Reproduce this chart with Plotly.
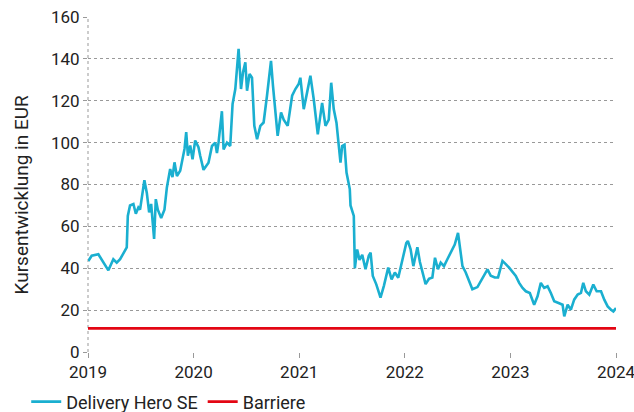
import plotly.graph_objects as go

# decimal year positions and closing prices (EUR)
years = [
    2019.003, 2019.035, 2019.098, 2019.145, 2019.193, 2019.240, 2019.272, 2019.304, 2019.335, 2019.367,
    2019.377, 2019.398, 2019.430, 2019.453, 2019.477, 2019.493, 2019.534, 2019.557, 2019.579, 2019.598,
    2019.626, 2019.642, 2019.661, 2019.693, 2019.724, 2019.747, 2019.778, 2019.800, 2019.819, 2019.842,
    2019.873, 2019.895, 2019.914, 2019.930, 2019.946, 2019.968, 2019.990, 2020.015, 2020.046, 2020.063,
    2020.094, 2020.141, 2020.174, 2020.205, 2020.221, 2020.236, 2020.268, 2020.284, 2020.316, 2020.347,
    2020.369, 2020.395, 2020.426, 2020.449, 2020.468, 2020.490, 2020.506, 2020.530, 2020.553, 2020.575,
    2020.601, 2020.632, 2020.663, 2020.695, 2020.733, 2020.752, 2020.774, 2020.796, 2020.828, 2020.853,
    2020.891, 2020.933, 2020.964, 2020.995, 2021.011, 2021.043, 2021.075, 2021.106, 2021.138, 2021.176,
    2021.217, 2021.249, 2021.280, 2021.303, 2021.327, 2021.353, 2021.375, 2021.391, 2021.407, 2021.429,
    2021.448, 2021.467, 2021.479, 2021.486, 2021.505, 2021.517, 2021.527, 2021.549, 2021.571, 2021.597,
    2021.628, 2021.659, 2021.676, 2021.697, 2021.730, 2021.770, 2021.802, 2021.843, 2021.875, 2021.906,
    2021.938, 2021.976, 2021.991, 2022.014, 2022.029, 2022.055, 2022.081, 2022.119, 2022.143, 2022.166,
    2022.197, 2022.229, 2022.261, 2022.286, 2022.314, 2022.340, 2022.371, 2022.403, 2022.441, 2022.473,
    2022.504, 2022.523, 2022.546, 2022.577, 2022.608, 2022.640, 2022.688, 2022.735, 2022.783, 2022.814,
    2022.852, 2022.883, 2022.925, 2022.956, 2022.988, 2023.051, 2023.083, 2023.115, 2023.146, 2023.184,
    2023.225, 2023.257, 2023.288, 2023.320, 2023.352, 2023.383, 2023.415, 2023.456, 2023.494, 2023.510,
    2023.542, 2023.573, 2023.604, 2023.637, 2023.668, 2023.690, 2023.715, 2023.747, 2023.785, 2023.817,
    2023.858, 2023.889, 2023.921, 2023.953, 2023.975, 2024.000,
]
prices = [
    43.5, 46.0, 46.7, 42.7, 39.0, 44.3, 42.7, 44.3, 47.5, 50.0,
    65.0, 70.0, 70.7, 66.0, 69.0, 68.0, 82.0, 76.0, 66.7, 70.7,
    54.0, 73.0, 68.0, 64.0, 68.0, 78.6, 87.4, 83.5, 90.6, 84.0,
    86.6, 92.2, 97.0, 105.0, 93.8, 98.6, 92.0, 101.0, 97.8, 93.6,
    87.0, 90.4, 98.4, 100.0, 95.0, 100.0, 115.0, 96.8, 100.0, 98.4,
    118.4, 125.6, 144.8, 125.6, 133.6, 138.4, 124.8, 132.8, 131.0, 108.0,
    101.6, 108.0, 109.6, 122.4, 139.0, 127.0, 114.4, 103.2, 114.4, 111.0,
    108.0, 122.4, 125.6, 128.0, 131.0, 116.0, 124.0, 132.0, 120.6, 104.0,
    119.0, 108.0, 111.0, 128.6, 116.0, 109.5, 98.4, 90.5, 98.4, 99.0,
    85.7, 80.0, 77.8, 70.0, 67.0, 65.0, 40.0, 49.0, 44.0, 46.4,
    39.5, 46.0, 47.5, 36.3, 32.3, 26.0, 31.6, 40.3, 34.7, 38.0,
    35.5, 44.3, 47.4, 52.0, 53.0, 49.0, 41.0, 50.0, 43.0, 38.0,
    32.4, 35.0, 35.6, 45.0, 39.5, 42.7, 41.0, 44.3, 48.2, 51.3,
    56.9, 50.0, 41.0, 38.0, 34.0, 30.0, 31.0, 35.0, 39.5, 36.4,
    35.6, 35.6, 43.5, 42.0, 40.3, 36.3, 33.0, 30.6, 29.0, 28.2,
    22.6, 26.6, 33.0, 30.6, 31.4, 28.2, 24.2, 23.4, 22.6, 17.0,
    22.6, 20.2, 25.0, 27.4, 28.2, 33.0, 29.0, 27.4, 32.2, 29.0,
    29.0, 25.0, 21.8, 20.2, 19.4, 21.0,
]
barrier_years = [2019.0, 2024.0]
barrier_values = [11.3, 11.3]

x_ticks = [2019, 2020, 2021, 2022, 2023, 2024]
x_labels = ["2019", "2020", "2021", "2022", "2023", "2024"]
y_ticks = [0, 20, 40, 60, 80, 100, 120, 140, 160]

FONT = "Roboto, Liberation Sans, Arial, sans-serif"

fig = go.Figure()
fig.add_trace(go.Scatter(x=years, y=prices, mode="lines", name="Delivery Hero SE",
                         line=dict(color="#1AAFD0", width=2.6)))
fig.add_trace(go.Scatter(x=barrier_years, y=barrier_values, mode="lines", name="Barriere",
                         line=dict(color="#E30613", width=2.6)))

fig.update_layout(
    width=634, height=412,
    margin=dict(l=88, r=18, t=17, b=60, autoexpand=False),
    paper_bgcolor="white", plot_bgcolor="white",
    font=dict(family=FONT, size=17, color="#222"),
    showlegend=True,
    legend=dict(orientation="h", x=-0.117, xanchor="left", y=-0.149, yanchor="middle",
                font=dict(family=FONT, size=18, color="#222"), itemwidth=30,
                bgcolor="rgba(0,0,0,0)"),
    xaxis=dict(range=[2019, 2024], tickmode="array", tickvals=x_ticks, ticktext=x_labels,
               showgrid=False, zeroline=False, showline=False,
               ticks="outside", ticklen=5, tickcolor="#999", tickwidth=1,
               ticklabeloverflow="allow",
               tickfont=dict(family=FONT, size=17, color="#222")),
    yaxis=dict(range=[0, 160], tickmode="array", tickvals=y_ticks,
               showgrid=True, gridcolor="#999", griddash="dot", gridwidth=1,
               zeroline=False, showline=False,
               ticks="outside", ticklen=4, tickcolor="#999", tickwidth=1,
               ticklabeloverflow="allow",
               tickfont=dict(family=FONT, size=17, color="#222")),
    shapes=[dict(type="line", xref="paper", yref="paper", x0=0, x1=0, y0=0, y1=1,
                 line=dict(color="#999", width=1, dash="dot"), layer="below")],
    annotations=[dict(text="Kursentwicklung in EUR", xref="paper", yref="paper",
                      x=-0.125, y=0.47, xanchor="center", yanchor="middle",
                      textangle=-90, showarrow=False,
                      font=dict(family=FONT, size=19, color="#222"))],
)

# remove the default page margin so the figure fills the window exactly
fig.write_html("out.html", config={"displayModeBar": False},
               post_script="document.body.style.margin='0';")
